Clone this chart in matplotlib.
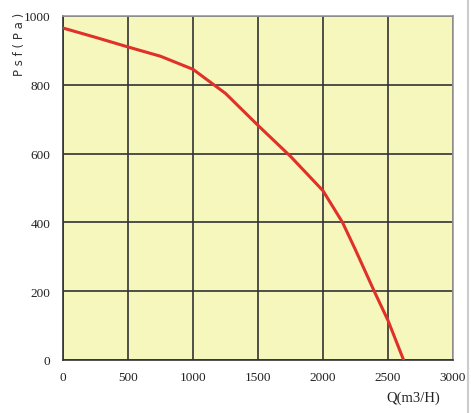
import matplotlib
matplotlib.use("Agg")
import matplotlib.pyplot as plt
from matplotlib.lines import Line2D

# Data
flow_q = [0, 250, 500, 750, 1000, 1250, 1500, 1750, 2000, 2150, 2250, 2400, 2500, 2620]
pressure = [965, 938, 910, 883, 845, 775, 682, 592, 492, 400, 320, 195, 115, 0]
x_ticks = [0, 500, 1000, 1500, 2000, 2500, 3000]
y_ticks = [0, 200, 400, 600, 800, 1000]

W, H = 471, 414
fig = plt.figure(figsize=(W / 100, H / 100), dpi=100)
ax = fig.add_axes([63 / W, (H - 361) / H, 390 / W, 344 / H])
ax.set_facecolor("#f5f7bc")

ax.plot(flow_q, pressure, color="#e0302a", lw=2.2, solid_capstyle="round", zorder=3)

ax.set_xlim(0, 3000)
ax.set_ylim(0, 1000)
ax.set_xticks(x_ticks)
ax.set_yticks(y_ticks)
tick_font = dict(family="Liberation Serif", size=9.5)
ax.set_xticklabels([str(t) for t in x_ticks], **tick_font)
ax.set_yticklabels([str(t) for t in y_ticks], **tick_font)
ax.tick_params(axis="x", length=0, pad=8, colors="#222222")
ax.tick_params(axis="y", length=0, pad=9, colors="#222222")
ax.grid(True, color="#333333", lw=1.2, zorder=1)
ax.set_axisbelow(True)
for s in ["left", "bottom"]:
    ax.spines[s].set_color("#333333")
    ax.spines[s].set_linewidth(1.2)
for s in ["top", "right"]:
    ax.spines[s].set_color("#999999")
    ax.spines[s].set_linewidth(1.2)

fig.text(440 / W, 1 - 398 / H, "Q(m3/H)", ha="right", va="center",
         family="Liberation Serif", size=10.5, color="#222222")
fig.text(20 / W, 1 - 44 / H, "P s f ( P a )", ha="center", va="center", rotation=90,
         family="DejaVu Sans", size=8.5, color="#333333")

fig.add_artist(Line2D([467.5 / W, 467.5 / W], [0, 1], color="#cccccc", lw=1.5,
                      transform=fig.transFigure))

fig.savefig("out.png", dpi=100)
